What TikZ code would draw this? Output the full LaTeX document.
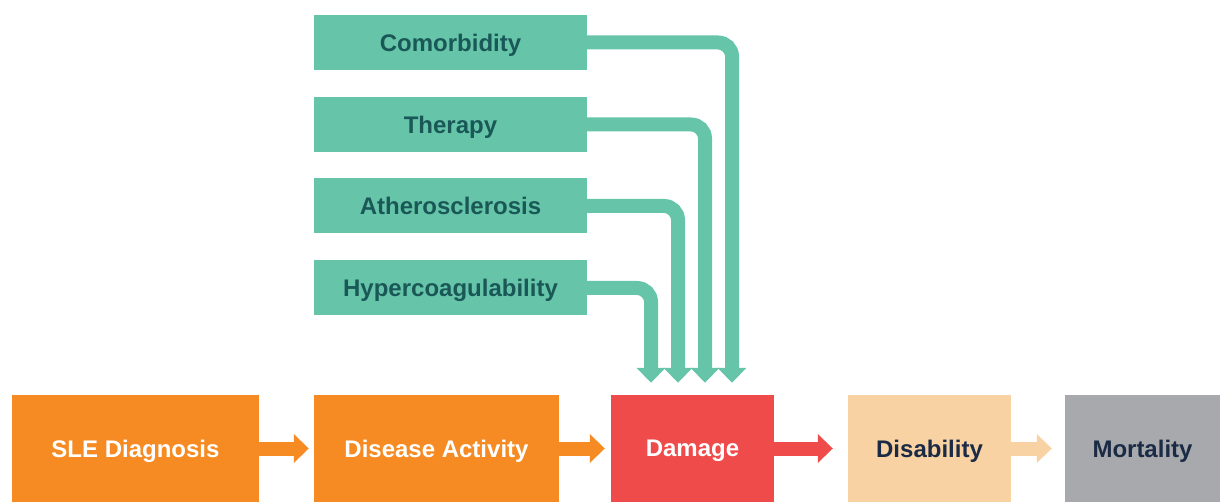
\documentclass[tikz,border=0pt]{standalone}
\usepackage{fontspec}
\setmainfont{Liberation Sans}
\usetikzlibrary{arrows.meta}

\definecolor{sleorange}{HTML}{F58B22}
\definecolor{damred}{HTML}{EF4B4B}
\definecolor{dispeach}{HTML}{F8D2A2}
\definecolor{morgray}{HTML}{A7A9AC}
\definecolor{riskteal}{HTML}{66C5A9}
\definecolor{riskink}{HTML}{1A5858}
\definecolor{darkink}{HTML}{1C2B45}

\tikzset{
    stage/.style={minimum height=107pt, inner sep=0pt, text depth=0pt,
        font=\fontsize{24}{28}\selectfont\bfseries},
    risk/.style={fill=riskteal, minimum width=273pt, minimum height=55pt, inner sep=0pt,
        text depth=0pt, text=riskink, font=\fontsize{24}{28}\selectfont\bfseries},
    flow/.style={line width=14pt, -{Triangle[width=28pt, length=15pt]}},
    feed/.style={line width=14pt, riskteal, rounded corners=14pt,
        -{Triangle[width=28pt, length=15pt]}, shorten >=12pt}
}

\begin{document}
\begin{tikzpicture}[x=1pt, y=-1pt]
        \useasboundingbox (0,0) rectangle (1220,502);

        % Stages
        \node[stage, fill=sleorange, text=white, minimum width=247pt] (sle) at (135.5, 448.5) {SLE Diagnosis};
        \node[stage, fill=sleorange, text=white, minimum width=245pt] (act) at (436.5, 448.5) {Disease Activity};
        \node[stage, fill=damred, text=white, minimum width=163pt] (dam) at (692.5, 448.5) {Damage};
        \node[stage, fill=dispeach, text=darkink, minimum width=163pt] (dis) at (929.5, 448.5) {Disability};
        \node[stage, fill=morgray, text=darkink, minimum width=155pt] (mor) at (1142.5, 448.5) {Mortality};

        % Risk factors
        \node[risk] (com) at (450.5, 42.5) {Comorbidity};
        \node[risk] (the) at (450.5, 124.5) {Therapy};
        \node[risk] (ath) at (450.5, 206) {Atherosclerosis};
        \node[risk] (hyp) at (450.5, 288) {Hypercoagulability};

        % Stage arrows
        \draw[flow, sleorange, shorten >=5pt] (sle) -- (act);
        \draw[flow, sleorange, shorten >=6pt] (act) -- (dam);
        \draw[flow, damred, shorten >=15pt] (dam) -- (dis);
        \draw[flow, dispeach, shorten >=13pt] (dis) -- (mor);

        % Risk factors to damage
        \foreach \n/\o in {hyp/-41.5, ath/-14.5, the/12.5, com/39.5} {
            \draw[feed] (\n.east) -| ([xshift=\o pt]dam.north);
        }
    \end{tikzpicture}
\end{document}
